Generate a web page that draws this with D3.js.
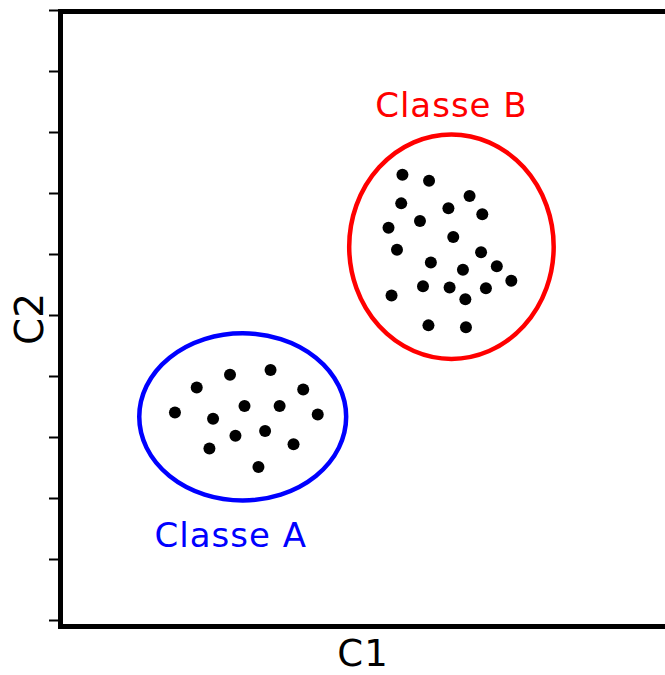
<!DOCTYPE html>
<html>
<head>
<meta charset="utf-8">
<script src="https://cdn.jsdelivr.net/npm/d3@7"></script>
<style>
  html, body { margin: 0; padding: 0; background: #fff; }
  svg { display: block; }
</style>
</head>
<body>
<svg id="chart" width="665" height="675"></svg>
<script>
// Observations of class A, [C1, C2]
const classA = [
  [1.90, 3.40], [2.26, 3.81], [2.81, 4.02], [3.48, 4.10], [4.02, 3.78],
  [3.05, 3.51], [3.63, 3.51], [4.26, 3.37], [2.53, 3.30], [3.39, 3.10],
  [2.90, 3.02], [2.47, 2.81], [3.86, 2.88], [3.28, 2.51]
];
// Observations of class B, [C1, C2]
const classB = [
  [5.66, 7.30], [6.10, 7.20], [6.77, 6.95], [5.64, 6.83], [6.42, 6.75],
  [6.98, 6.65], [5.95, 6.54], [5.43, 6.43], [6.50, 6.28], [5.57, 6.07],
  [6.96, 6.03], [6.13, 5.86], [7.22, 5.80], [6.66, 5.74], [7.46, 5.56],
  [6.00, 5.47], [6.44, 5.45], [7.04, 5.44], [5.48, 5.32], [6.70, 5.26],
  [6.09, 4.83], [6.71, 4.80]
];
// Enclosing ellipse of each class: centre and semi-axes, in data units
const classNames = ["Classe A", "Classe B"];
const classColors = ["#0000ff", "#ff0000"];
const ellipseCenters = [[3.02, 3.33], [6.47, 6.12]];
const ellipseRadii = [[1.71, 1.37], [1.69, 1.84]];
const yTicks = d3.range(0, 11);

const svg = d3.select("#chart");
const x = d3.scaleLinear().domain([0, 10]).range([60, 665]);
const y = d3.scaleLinear().domain([0, 10]).range([620, 10]);

// Class ellipses
classNames.forEach((name, i) => {
  const [cx, cy] = ellipseCenters[i];
  const [rx, ry] = ellipseRadii[i];
  svg.append("ellipse")
    .attr("cx", x(cx)).attr("cy", y(cy))
    .attr("rx", x(cx + rx) - x(cx)).attr("ry", y(cy) - y(cy + ry))
    .attr("fill", "none")
    .attr("stroke", classColors[i])
    .attr("stroke-width", 4.5);
});

// Points
svg.append("g").selectAll("circle")
  .data(classA.concat(classB))
  .join("circle")
  .attr("cx", d => x(d[0]))
  .attr("cy", d => y(d[1]))
  .attr("r", 6)
  .attr("fill", "#000");

// Class labels: A below its ellipse, B above
const labelFont = "'DejaVu Sans', Verdana, sans-serif";
svg.append("text")
  .attr("x", x(ellipseCenters[0][0]) - 12)
  .attr("y", y(ellipseCenters[0][1] - ellipseRadii[0][1]) + 47)
  .attr("text-anchor", "middle")
  .attr("font-family", labelFont).attr("font-size", 34)
  .attr("letter-spacing", 1)
  .attr("fill", classColors[0])
  .text(classNames[0]);
svg.append("text")
  .attr("x", x(ellipseCenters[1][0]))
  .attr("y", y(ellipseCenters[1][1] + ellipseRadii[1][1]) - 17)
  .attr("text-anchor", "middle")
  .attr("font-family", labelFont).attr("font-size", 34)
  .attr("letter-spacing", 1)
  .attr("fill", classColors[1])
  .text(classNames[1]);

// Left axis ticks (no labels)
const yAxis = d3.axisLeft(y).tickValues(yTicks).tickSize(10).tickFormat("");
const gy = svg.append("g").attr("transform", "translate(59,0)").call(yAxis);
gy.select(".domain").remove();
gy.selectAll(".tick line").attr("stroke", "#000").attr("stroke-width", 2);

// Frame: left, top and bottom spines
const frame = svg.append("g").attr("stroke", "#000").attr("stroke-width", 5)
  .attr("fill", "none");
frame.append("path")
  .attr("d", `M${x(10) + 5},11.5 H60.5 V626.5 H${x(10) + 5}`);

// Axis titles
svg.append("text")
  .attr("x", 363).attr("y", 666)
  .attr("text-anchor", "middle")
  .attr("font-family", labelFont).attr("font-size", 37)
  .attr("letter-spacing", 1)
  .attr("fill", "#000")
  .text("C1");
svg.append("text")
  .attr("transform", `translate(43,319) rotate(-90)`)
  .attr("text-anchor", "middle")
  .attr("font-family", labelFont).attr("font-size", 39)
  .attr("fill", "#000")
  .text("C2");
</script>
</body>
</html>
